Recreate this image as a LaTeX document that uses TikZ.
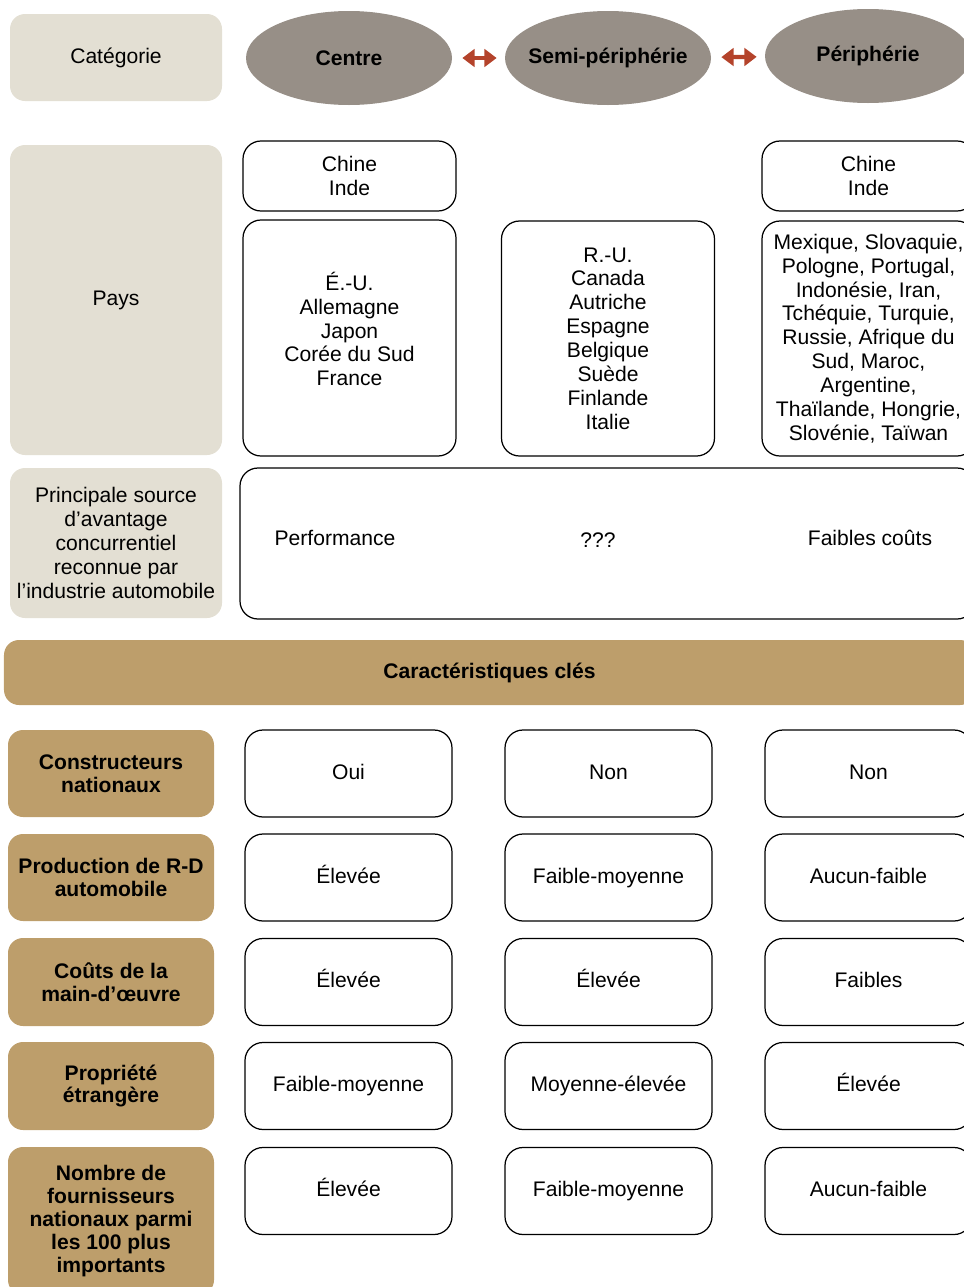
\documentclass[tikz,border=0pt]{standalone}
\usepackage{fontspec}
\setmainfont{Liberation Sans}
\usetikzlibrary{shapes.geometric,arrows.meta}

\definecolor{beigeclair}{HTML}{E3DFD3}
\definecolor{grisel}{HTML}{978F87}
\definecolor{ocre}{HTML}{BD9E6B}
\definecolor{rougefl}{HTML}{B4432B}

\begin{document}
\begin{tikzpicture}[
  every node/.style={font=\fontsize{12}{13.6}\selectfont, align=center, inner sep=0pt},
  catbox/.style={fill=beigeclair, rounded corners=0.3cm, minimum width=4.24cm},
  ellbox/.style={ellipse, fill=grisel, minimum width=4.12cm, minimum height=1.88cm,
    font=\fontsize{12}{13.6}\selectfont\bfseries},
  paysbox/.style={draw, line width=0.7pt, rounded corners=0.36cm, minimum width=4.26cm},
  clebox/.style={fill=ocre, rounded corners=0.3cm, minimum width=4.12cm,
    font=\fontsize{12}{13}\selectfont\bfseries},
  valbox/.style={draw, line width=0.7pt, rounded corners=0.36cm, minimum width=4.14cm, minimum height=1.74cm,
    text height=9pt, text depth=2.5pt},
  fleche/.style={{Triangle[width=10pt,length=7pt]}-{Triangle[width=10pt,length=7pt]}, line width=2.4pt, rougefl}
]
\clip (0,0) rectangle (19.28,-25.74);

% en-tete
\node[catbox, minimum height=1.74cm] (cat) at (2.32,-1.15) {Catégorie};
\node[ellbox] (centre) at (6.98,-1.16) {\makebox[0pt]{Centre}};
\node[ellbox] (semi) at (12.16,-1.16) {\makebox[0pt]{Semi-périphérie}};
\node[ellbox] (peri) at (17.36,-1.12) {\makebox[0pt]{Périphérie}};
\draw[fleche, shorten <=0.2cm, shorten >=0.16cm] (centre) -- (semi);
\draw[fleche, shorten <=0.2cm, shorten >=0.16cm] (semi) -- (peri);

% pays
\node[catbox, minimum height=6.2cm] (pays) at (2.32,-6.0) {Pays};
\node[paysbox, minimum height=1.4cm] (chinec) at (6.99,-3.52) {Chine\\Inde};
\node[paysbox, minimum height=1.4cm] (chinep) at (17.37,-3.52) {Chine\\Inde};
\node[paysbox, minimum height=4.72cm,
  label={[yshift=0.18cm]center:{É.-U.\\Allemagne\\Japon\\Corée du Sud\\France}}] (paysc) at (6.99,-6.76) {};
\node[paysbox, minimum height=4.7cm] (payss) at (12.16,-6.77)
  {R.-U.\\Canada\\Autriche\\Espagne\\Belgique\\Suède\\Finlande\\Italie};
\node[paysbox, minimum height=4.7cm] (paysp) at (17.37,-6.77)
  {Mexique, Slovaquie,\\Pologne, Portugal,\\Indonésie, Iran,\\Tchéquie, Turquie,\\Russie, Afrique du\\Sud, Maroc,\\Argentine,\\Thaïlande, Hongrie,\\Slovénie, Taïwan};

% avantage concurrentiel
\node[catbox, minimum height=3.0cm] (source) at (2.32,-10.86)
  {Principale source\\d’avantage\\concurrentiel\\reconnue par\\l’industrie automobile};
\node[paysbox, minimum width=14.7cm, minimum height=3.02cm] (avantage) at (12.15,-10.87) {};
\node (perf) at (6.7,-10.76) {Performance};
\node (inconnu) at (11.96,-10.8) {???};
\node (couts) at (17.4,-10.76) {Faibles coûts};

% caracteristiques cles
\node[clebox, minimum width=19.42cm, minimum height=1.3cm] (cles) at (9.79,-13.45) {Caractéristiques clés};

\foreach \y/\yl/\h/\lab/\a/\b/\c [count=\i] in {
  -15.47/-15.47/1.74/{Constructeurs\\nationaux}/Oui/Non/Non,
  -17.55/-17.55/1.74/{Production de R-D\\automobile}/Élevée/Faible-moyenne/Aucun-faible,
  -19.64/-19.64/1.76/{Coûts de la\\main-d’œuvre}/Élevée/Élevée/Faibles,
  -21.72/-21.72/1.76/{Propriété\\étrangère}/Faible-moyenne/Moyenne-élevée/Élevée,
  -23.82/-24.42/2.96/{Nombre de\\fournisseurs\\nationaux parmi\\les 100 plus\\importants}/Élevée/Faible-moyenne/Aucun-faible}
{
  \node[clebox, minimum height=\h cm] (lab\i) at (2.22,\yl) {\lab};
  \node[valbox] (c\i) at (6.97,\y) {\a};
  \node[valbox] (s\i) at (12.17,\y) {\b};
  \node[valbox] (p\i) at (17.37,\y) {\c};
}
\end{tikzpicture}
\end{document}
